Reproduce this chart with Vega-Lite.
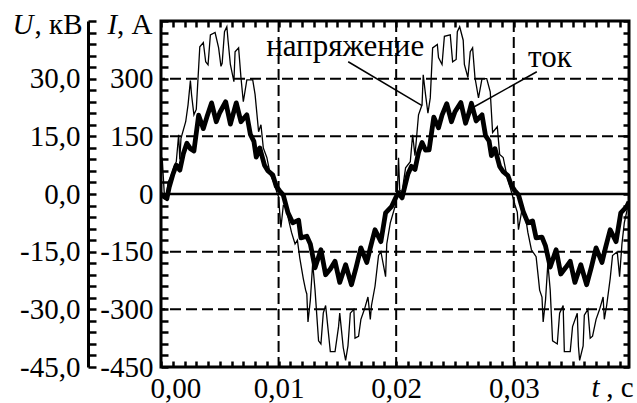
{
  "$schema": "https://vega.github.io/schema/vega-lite/v6.json",
  "width": 468,
  "height": 346,
  "autosize": {"type": "none"},
  "padding": {"left": 161, "top": 21, "right": 8, "bottom": 36},
  "background": "white",
  "config": {
    "view": {"stroke": "black", "strokeWidth": 3},
    "axis": {
      "labelFont": "Liberation Serif, Times New Roman, Tinos, DejaVu Serif, serif", "labelFontSize": 29, "labelColor": "black",
      "titleFont": "Liberation Serif, Times New Roman, Tinos, DejaVu Serif, serif", "titleFontSize": 29, "titleColor": "black", "titleFontWeight": "normal",
      "tickColor": "black", "tickWidth": 2.5, "domainColor": "black", "domainWidth": 3,
      "grid": false, "labelOverlap": false, "labelFlush": false, "labelBound": false
    }
  },
  "datasets": {
    "cur": [
      {"t":0.0000,"I":0},{"t":0.0002,"I":-6},{"t":0.0005,"I":-12},{"t":0.0007,"I":18},{"t":0.0010,"I":50},
      {"t":0.0013,"I":75},{"t":0.0016,"I":62},{"t":0.0019,"I":105},{"t":0.0022,"I":132},{"t":0.0025,"I":118},
      {"t":0.0028,"I":112},{"t":0.0032,"I":205},{"t":0.0036,"I":170},{"t":0.0039,"I":200},{"t":0.0043,"I":237},
      {"t":0.0047,"I":188},{"t":0.0050,"I":212},{"t":0.0055,"I":240},{"t":0.0059,"I":182},{"t":0.0062,"I":215},
      {"t":0.0064,"I":237},{"t":0.0068,"I":188},{"t":0.0073,"I":206},{"t":0.0076,"I":155},{"t":0.0079,"I":137},
      {"t":0.0081,"I":96},{"t":0.0084,"I":120},{"t":0.0088,"I":75},{"t":0.0091,"I":60},{"t":0.0095,"I":50},
      {"t":0.0098,"I":20},{"t":0.0101,"I":8},{"t":0.0104,"I":-3},{"t":0.0108,"I":-49},{"t":0.0112,"I":-75},
      {"t":0.0117,"I":-68},{"t":0.0119,"I":-114},{"t":0.0124,"I":-110},{"t":0.0127,"I":-130},{"t":0.0131,"I":-192},
      {"t":0.0136,"I":-145},{"t":0.0140,"I":-210},{"t":0.0144,"I":-195},{"t":0.0148,"I":-175},{"t":0.0152,"I":-230},
      {"t":0.0157,"I":-184},{"t":0.0162,"I":-236},{"t":0.0166,"I":-190},{"t":0.0170,"I":-140},{"t":0.0175,"I":-178},
      {"t":0.0178,"I":-140},{"t":0.0182,"I":-93},{"t":0.0187,"I":-124},{"t":0.0191,"I":-49},{"t":0.0196,"I":-33},
      {"t":0.0200,"I":-7},{"t":0.0202,"I":3},
      {"t":0.0205,"I":-10},{"t":0.0207,"I":15},{"t":0.0210,"I":52},{"t":0.0213,"I":72},{"t":0.0216,"I":64},
      {"t":0.0219,"I":108},{"t":0.0222,"I":134},{"t":0.0225,"I":114},{"t":0.0228,"I":115},{"t":0.0232,"I":200},
      {"t":0.0236,"I":172},{"t":0.0239,"I":205},{"t":0.0243,"I":235},{"t":0.0247,"I":188},{"t":0.0250,"I":214},
      {"t":0.0255,"I":238},{"t":0.0259,"I":184},{"t":0.0262,"I":212},{"t":0.0264,"I":236},{"t":0.0268,"I":190},
      {"t":0.0273,"I":206},{"t":0.0276,"I":152},{"t":0.0279,"I":138},{"t":0.0281,"I":100},{"t":0.0284,"I":118},
      {"t":0.0288,"I":72},{"t":0.0291,"I":58},{"t":0.0295,"I":48},{"t":0.0298,"I":22},{"t":0.0301,"I":8},
      {"t":0.0304,"I":-2},{"t":0.0308,"I":-45},{"t":0.0312,"I":-75},{"t":0.0316,"I":-70},{"t":0.0319,"I":-114},
      {"t":0.0324,"I":-112},{"t":0.0327,"I":-135},{"t":0.0331,"I":-190},{"t":0.0336,"I":-145},{"t":0.0340,"I":-208},
      {"t":0.0344,"I":-192},{"t":0.0348,"I":-175},{"t":0.0352,"I":-230},{"t":0.0357,"I":-184},{"t":0.0362,"I":-236},
      {"t":0.0366,"I":-190},{"t":0.0370,"I":-140},{"t":0.0375,"I":-178},{"t":0.0378,"I":-140},{"t":0.0382,"I":-93},
      {"t":0.0387,"I":-124},{"t":0.0391,"I":-49},{"t":0.0396,"I":-33},{"t":0.0398,"I":-20}
    ],
    "volt": [
      {"t":0.0000,"U":2},{"t":0.0001,"U":9.5},{"t":0.0003,"U":-1},{"t":0.0005,"U":0},{"t":0.0006,"U":3},
      {"t":0.0009,"U":5},{"t":0.0011,"U":7},{"t":0.0013,"U":8.4},{"t":0.0015,"U":15.4},{"t":0.0016,"U":9},
      {"t":0.0017,"U":14.5},{"t":0.0021,"U":18.8},{"t":0.0023,"U":23.2},{"t":0.0025,"U":29.5},{"t":0.0026,"U":25.8},
      {"t":0.0028,"U":20.6},{"t":0.0030,"U":22},{"t":0.0033,"U":38.3},{"t":0.0036,"U":39.4},{"t":0.0038,"U":34.4},
      {"t":0.0040,"U":33.6},{"t":0.0042,"U":41.4},{"t":0.0046,"U":42},{"t":0.0049,"U":38},{"t":0.0051,"U":33.2},
      {"t":0.0052,"U":34},{"t":0.0054,"U":42.2},{"t":0.0056,"U":43.5},{"t":0.0057,"U":40},{"t":0.0059,"U":33.7},
      {"t":0.0062,"U":29.2},{"t":0.0063,"U":37},{"t":0.0066,"U":38},{"t":0.0068,"U":30.3},{"t":0.0070,"U":24},
      {"t":0.0073,"U":29.7},{"t":0.0078,"U":29.7},{"t":0.0080,"U":25.9},{"t":0.0083,"U":16.2},{"t":0.0085,"U":18},
      {"t":0.0087,"U":12},{"t":0.0090,"U":9.5},{"t":0.0093,"U":5},{"t":0.0096,"U":3},{"t":0.0099,"U":0},
      {"t":0.0100,"U":-0.7},{"t":0.0101,"U":-5},{"t":0.0102,"U":-8.7},{"t":0.0104,"U":-3},{"t":0.0106,"U":-3.2},
      {"t":0.0108,"U":-6},{"t":0.0111,"U":-10},{"t":0.0114,"U":-13},{"t":0.0116,"U":-12},{"t":0.0118,"U":-16.6},
      {"t":0.0121,"U":-22},{"t":0.0123,"U":-25},{"t":0.0124,"U":-26},{"t":0.0125,"U":-33.3},{"t":0.0127,"U":-27.6},
      {"t":0.0129,"U":-18},{"t":0.0131,"U":-25},{"t":0.0134,"U":-38.2},{"t":0.0136,"U":-39},{"t":0.0138,"U":-31},
      {"t":0.0140,"U":-29},{"t":0.0144,"U":-41},{"t":0.0148,"U":-41},{"t":0.0151,"U":-34.5},{"t":0.0152,"U":-31},
      {"t":0.0155,"U":-40},{"t":0.0157,"U":-43.3},{"t":0.0159,"U":-39.5},{"t":0.0161,"U":-31},{"t":0.0164,"U":-30},
      {"t":0.0165,"U":-37.5},{"t":0.0168,"U":-37},{"t":0.0170,"U":-32.6},{"t":0.0173,"U":-30},{"t":0.0176,"U":-26.8},
      {"t":0.0178,"U":-32.6},{"t":0.0179,"U":-29},{"t":0.0182,"U":-24},{"t":0.0185,"U":-16},{"t":0.0187,"U":-15},
      {"t":0.0191,"U":-21.5},{"t":0.0192,"U":-13},{"t":0.0195,"U":-7.5},{"t":0.0199,"U":-3.3},{"t":0.0201,"U":0.4},
      {"t":0.0202,"U":9.4},{"t":0.0203,"U":1},{"t":0.0205,"U":0.5},{"t":0.0208,"U":6.8},{"t":0.0212,"U":8.4},
      {"t":0.0214,"U":15.4},{"t":0.0216,"U":10},{"t":0.0219,"U":20.6},{"t":0.0222,"U":23.2},{"t":0.0223,"U":31},
      {"t":0.0225,"U":25.8},{"t":0.0227,"U":21},{"t":0.0229,"U":25},{"t":0.0231,"U":38},{"t":0.0235,"U":38.9},
      {"t":0.0236,"U":35.5},{"t":0.0239,"U":33.7},{"t":0.0241,"U":41},{"t":0.0246,"U":41.4},{"t":0.0248,"U":34.4},
      {"t":0.0251,"U":35},{"t":0.0252,"U":42.2},{"t":0.0254,"U":43.5},{"t":0.0257,"U":40},{"t":0.0258,"U":33.7},
      {"t":0.0261,"U":30.3},{"t":0.0263,"U":37},{"t":0.0265,"U":38},{"t":0.0267,"U":30.3},{"t":0.0270,"U":25},
      {"t":0.0273,"U":30},{"t":0.0277,"U":30},{"t":0.0280,"U":26.6},{"t":0.0282,"U":16},{"t":0.0286,"U":17.5},
      {"t":0.0288,"U":10.3},{"t":0.0291,"U":9.5},{"t":0.0294,"U":5},{"t":0.0297,"U":1.7},{"t":0.0301,"U":-2.8},
      {"t":0.0303,"U":-4.7},{"t":0.0304,"U":-9.3},{"t":0.0307,"U":-4},{"t":0.0310,"U":-6},{"t":0.0312,"U":-10},
      {"t":0.0315,"U":-14.5},{"t":0.0319,"U":-16.3},{"t":0.0321,"U":-22},{"t":0.0322,"U":-25},{"t":0.0324,"U":-26.8},
      {"t":0.0325,"U":-33.3},{"t":0.0327,"U":-27.6},{"t":0.0329,"U":-18},{"t":0.0331,"U":-25},{"t":0.0333,"U":-38.2},
      {"t":0.0337,"U":-39},{"t":0.0339,"U":-31},{"t":0.0342,"U":-29},{"t":0.0343,"U":-41},{"t":0.0348,"U":-41},
      {"t":0.0350,"U":-34.5},{"t":0.0354,"U":-31},{"t":0.0355,"U":-39.6},{"t":0.0356,"U":-43.3},{"t":0.0359,"U":-39.5},
      {"t":0.0360,"U":-31.5},{"t":0.0363,"U":-30},{"t":0.0365,"U":-37.5},{"t":0.0367,"U":-37},{"t":0.0370,"U":-32.6},
      {"t":0.0373,"U":-30},{"t":0.0376,"U":-26.8},{"t":0.0377,"U":-32.6},{"t":0.0379,"U":-29},{"t":0.0382,"U":-22},
      {"t":0.0384,"U":-16},{"t":0.0388,"U":-15},{"t":0.0390,"U":-21.5},{"t":0.0392,"U":-13},{"t":0.0394,"U":-7.5},
      {"t":0.0397,"U":-3.3},{"t":0.0398,"U":-1}
    ],
    "hgrid": [{"g":-300},{"g":-150},{"g":150},{"g":300}],
    "vgrid": [{"g":0.01},{"g":0.02},{"g":0.03}],
    "zero": [{"z":0}],
    "labels": [
      {"t":0.01566,"I":360,"label":"напряжение"},
      {"t":0.03307,"I":331,"label":"ток"}
    ],
    "leaders": [
      {"t1":0.01592,"I1":344,"t2":0.0222,"I2":230},
      {"t1":0.03196,"I1":318,"t2":0.02653,"I2":225}
    ]
  },
  "resolve": {"scale": {"y": "independent"}, "axis": {"x": "independent", "y": "independent"}},
  "layer": [
    {
      "data": {"name": "hgrid"},
      "mark": {"type": "rule", "color": "black", "strokeWidth": 2, "strokeDash": [11, 5]},
      "encoding": {
        "y": {"field": "g", "type": "quantitative",
          "scale": {"domain": [-450, 450], "nice": false, "zero": false},
          "axis": {"orient": "right", "title": null, "labels": false, "domain": false, "tickSize": -6,
            "values": [-450,-420,-390,-360,-330,-300,-270,-240,-210,-180,-150,-120,-90,-60,-30,0,30,60,90,120,150,180,210,240,270,300,330,360,390,420,450]}}
      }
    },
    {
      "data": {"name": "vgrid"},
      "mark": {"type": "rule", "color": "black", "strokeWidth": 2, "strokeDash": [11, 5]},
      "encoding": {
        "x": {"field": "g", "type": "quantitative",
          "scale": {"domain": [0, 0.0398], "nice": false, "zero": false},
          "axis": {"orient": "top", "title": null, "labels": false, "domain": false, "tickSize": -6,
            "values": [0,0.001,0.002,0.003,0.004,0.005,0.006,0.007,0.008,0.009,0.01,0.011,0.012,0.013,0.014,0.015,0.016,0.017,0.018,0.019,0.02,0.021,0.022,0.023,0.024,0.025,0.026,0.027,0.028,0.029,0.03,0.031,0.032,0.033,0.034,0.035,0.036,0.037,0.038,0.039]}}
      }
    },
    {
      "data": {"name": "zero"},
      "mark": {"type": "rule", "color": "black", "strokeWidth": 2.5},
      "encoding": {
        "y": {"field": "z", "type": "quantitative",
          "scale": {"domain": [-450, 450], "nice": false, "zero": false},
          "axis": {"orient": "left", "title": "I", "titleFontStyle": "italic", "ticks": false, "labels": false, "domain": false,
            "titleAngle": 0, "titleAlign": "left", "titleBaseline": "alphabetic", "titleX": -54, "titleY": 12}}
      }
    },
    {
      "data": {"name": "volt"},
      "mark": {"type": "line", "color": "black", "strokeWidth": 1.3, "clip": true},
      "encoding": {
        "x": {"field": "t", "type": "quantitative",
          "scale": {"domain": [0, 0.0398], "nice": false, "zero": false},
          "axis": {"orient": "bottom", "title": "t", "titleFontStyle": "italic", "ticks": false, "labels": false, "domain": false,
            "titleAlign": "left", "titleBaseline": "alphabetic", "titleX": 430, "titleY": 29}},
        "y": {"field": "U", "type": "quantitative",
          "scale": {"domain": [-45, 45], "nice": false, "zero": false},
          "axis": {"orient": "left", "offset": 73, "title": ", кВ", "domain": true, "tickSize": -8, "labelPadding": 16,
            "values": [-45,-42,-39,-36,-33,-30,-27,-24,-21,-18,-15,-12,-9,-6,-3,0,3,6,9,12,15,18,21,24,27,30,33,36,39,42,45],
            "labelExpr": "datum.value % 15 == 0 && datum.value < 45 ? (datum.value < 0 ? '-' : '') + replace(format(abs(datum.value), '.1f'), '.', ',') : ''",
            "titleAngle": 0, "titleAlign": "right", "titleBaseline": "alphabetic", "titleX": -6, "titleY": 12}}
      }
    },
    {
      "data": {"name": "cur"},
      "mark": {"type": "line", "color": "black", "strokeWidth": 4.8, "strokeJoin": "round", "clip": true},
      "encoding": {
        "x": {"field": "t", "type": "quantitative",
          "scale": {"domain": [0, 0.0398], "nice": false, "zero": false},
          "axis": {"orient": "bottom", "title": ", с", "domain": false, "tickSize": -6, "labelPadding": 13,
            "labelFlush": 1, "labelFlushOffset": 11,
            "values": [0,0.001,0.002,0.003,0.004,0.005,0.006,0.007,0.008,0.009,0.01,0.011,0.012,0.013,0.014,0.015,0.016,0.017,0.018,0.019,0.02,0.021,0.022,0.023,0.024,0.025,0.026,0.027,0.028,0.029,0.03,0.031,0.032,0.033,0.034,0.035,0.036,0.037,0.038,0.039],
            "labelExpr": "abs(datum.value * 100 - round(datum.value * 100)) < 0.000001 ? replace(format(datum.value, '.2f'), '.', ',') : ''",
            "titleAlign": "right", "titleBaseline": "alphabetic", "titleX": 472, "titleY": 29}},
        "y": {"field": "I", "type": "quantitative",
          "scale": {"domain": [-450, 450], "nice": false, "zero": false},
          "axis": {"orient": "left", "title": ", А", "domain": false, "tickSize": -7, "labelPadding": 15,
            "values": [-450,-420,-390,-360,-330,-300,-270,-240,-210,-180,-150,-120,-90,-60,-30,0,30,60,90,120,150,180,210,240,270,300,330,360,390,420,450],
            "labelExpr": "datum.value % 150 == 0 && datum.value < 450 ? (datum.value < 0 ? '-' : '') + format(abs(datum.value), 'd') : ''",
            "titleAngle": 0, "titleAlign": "right", "titleBaseline": "alphabetic", "titleX": -9, "titleY": 12}}
      }
    },
    {
      "data": {"name": "leaders"},
      "mark": {"type": "rule", "color": "black", "strokeWidth": 1.5},
      "encoding": {
        "x": {"field": "t1", "type": "quantitative", "scale": {"domain": [0, 0.0398], "nice": false, "zero": false}, "axis": null},
        "x2": {"field": "t2"},
        "y": {"field": "I1", "type": "quantitative", "scale": {"domain": [-450, 450], "nice": false, "zero": false}, "axis": null},
        "y2": {"field": "I2"}
      }
    },
    {
      "data": {"name": "labels"},
      "mark": {"type": "text", "font": "Liberation Serif, Times New Roman, Tinos, DejaVu Serif, serif", "fontSize": 31, "color": "black", "align": "center", "baseline": "alphabetic"},
      "encoding": {
        "x": {"field": "t", "type": "quantitative", "scale": {"domain": [0, 0.0398], "nice": false, "zero": false}, "axis": null},
        "y": {"field": "I", "type": "quantitative",
          "scale": {"domain": [-450, 450], "nice": false, "zero": false},
          "axis": {"orient": "left", "offset": 73, "title": "U", "titleFontStyle": "italic", "ticks": false, "labels": false, "domain": false,
            "titleAngle": 0, "titleAlign": "left", "titleBaseline": "alphabetic", "titleX": -76, "titleY": 12}},
        "text": {"field": "label"}
      }
    }
  ]
}
